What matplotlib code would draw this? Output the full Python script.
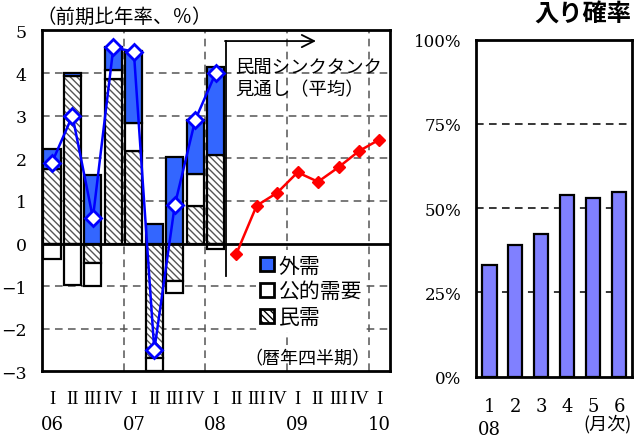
import numpy as np
import matplotlib
matplotlib.use("Agg")
import matplotlib.pyplot as plt
from matplotlib.patches import Patch
from matplotlib.transforms import blended_transform_factory

JP = ["Noto Sans CJK JP", "DejaVu Sans"]
NUM = "DejaVu Serif"

# --- quarterly real GDP contributions (q/q annualised, %) ---
quarter_labels = ["I", "II", "III", "IV"] * 4 + ["I"]
year_labels = ["06", "07", "08", "09", "10"]
private_demand = [1.75, 3.92, -0.45, 3.87, 2.18, -2.69, -0.88, 0.89, 2.07]
public_demand = [-0.35, -0.97, -0.55, 0.20, 0.65, -0.30, -0.28, 0.74, -0.13]
external_demand = [0.47, 0.07, 1.61, 0.55, 1.68, 0.45, 2.03, 1.28, 2.08]
gdp_growth = [1.9, 3.0, 0.6, 4.6, 4.5, -2.5, 0.9, 2.9, 4.0]
forecast = [-0.25, 0.89, 1.19, 1.67, 1.45, 1.79, 2.17, 2.44]

# --- monthly recession probability (%) ---
months = ["1", "2", "3", "4", "5", "6"]
probability = [33.2, 39.2, 42.3, 53.9, 53.1, 54.9]

BLUE = "#3366ff"
HATCH_GRAY = "#555555"
GRID = "#555555"
HATCH = "\\\\\\\\\\"

plt.rcParams["hatch.linewidth"] = 1.0
plt.rcParams["hatch.color"] = HATCH_GRAY

fig = plt.figure(figsize=(6.4, 4.39), dpi=100)

# ================= left panel =================
ax = fig.add_axes([0.0652, 0.1515, 0.5437, 0.7770])
n = len(private_demand)
x = np.arange(n)
w = 0.84

pos_base = np.zeros(n)
neg_base = np.zeros(n)

def stack(vals):
    vals = np.asarray(vals, dtype=float)
    bottoms = np.where(vals >= 0, pos_base, neg_base)
    pos_base[:] += np.where(vals >= 0, vals, 0)
    neg_base[:] += np.where(vals < 0, vals, 0)
    return bottoms

b_priv = stack(private_demand)
ax.bar(x, private_demand, w, bottom=b_priv, facecolor="white",
       edgecolor=HATCH_GRAY, hatch=HATCH, linewidth=0, zorder=3)
ax.bar(x, private_demand, w, bottom=b_priv, facecolor="none",
       edgecolor="black", linewidth=1.6, zorder=4)

b_pub = stack(public_demand)
ax.bar(x, public_demand, w, bottom=b_pub, facecolor="white",
       edgecolor="black", linewidth=1.6, zorder=4)

b_ext = stack(external_demand)
ax.bar(x, external_demand, w, bottom=b_ext, facecolor=BLUE,
       edgecolor="black", linewidth=1.6, zorder=4)

ax.plot(x, gdp_growth, color="#0000ff", lw=1.8, marker="D", ms=8,
        mfc="white", mec="#0000ff", mew=2, zorder=6)

xf = np.arange(n, n + len(forecast))
ax.plot(xf, forecast, color="#ff0000", lw=1.8, marker="D", ms=6.5,
        mfc="#ff0000", mec="#ff0000", zorder=6)

ax.set_xlim(-0.5, 16.5)
ax.set_ylim(-3, 5)
ax.set_yticks(range(-3, 6))
ax.set_yticklabels([str(v).replace("-", "\u2212") for v in range(-3, 6)],
                   family=NUM, fontsize=12.5)
ax.tick_params(axis="y", length=0, pad=11)
ax.set_xticks([])

for yv in [-2, -1, 1, 2, 3, 4]:
    ax.axhline(yv, color=GRID, lw=1.1, dashes=(5, 3.5), zorder=1)
for xv in [3.5, 7.5, 11.5, 15.5]:
    ax.axvline(xv, color=GRID, lw=1.1, dashes=(5, 3.5), zorder=1)
ax.axhline(0, color="black", lw=2, zorder=5)

for s in ax.spines.values():
    s.set_linewidth(2)

# quarter and year labels under the axis
tr = blended_transform_factory(ax.transData, fig.transFigure)
for i, lab in enumerate(quarter_labels):
    ax.text(i, 1 - 400 / 439, lab, transform=tr, ha="center", va="center",
            family="Liberation Serif", fontsize=13.5)
for k, yl in enumerate(year_labels):
    ax.text(4 * k, 1 - 425 / 439, yl, transform=tr, ha="center",
            va="center", family=NUM, fontsize=13)

fig.text(37 / 640, 1 - 17 / 439, "（前期比年率、％）", family=JP,
         fontsize=14, ha="left", va="center")

# forecast bracket with arrow
ax.plot([8.5, 8.5], [-0.75, 4.75], color="black", lw=1.3, zorder=5)
ax.annotate("", xy=(12.9, 4.75), xytext=(8.45, 4.75),
            arrowprops=dict(arrowstyle="->", lw=1.3, color="black",
                            mutation_scale=22, shrinkA=0, shrinkB=0),
            zorder=5)
ax.text(8.95, 3.87, "民間シンクタンク\n見通し（平均）", family=JP,
        fontsize=13.2, ha="left", va="center", linespacing=1.3, zorder=7)

ax.text(15.55, -2.68, "（暦年四半期）", family=JP, fontsize=13,
        ha="right", va="center", zorder=7)

handles = [
    Patch(facecolor=BLUE, edgecolor="black", linewidth=2, label="外需"),
    Patch(facecolor="white", edgecolor="black", linewidth=2, label="公的需要"),
    Patch(facecolor="white", edgecolor="black", linewidth=2,
          hatch=HATCH, label="民需"),
]
leg = ax.legend(handles=handles, loc="upper left",
                bbox_to_anchor=(0.615, 0.355), frameon=True, framealpha=1,
                edgecolor="none", prop={"family": JP, "size": 15},
                handlelength=0.68, handleheight=0.68, handletextpad=0.22,
                labelspacing=0.18, borderpad=0.2, borderaxespad=0)
leg.set_zorder(8)

# ================= right panel =================
ax2 = fig.add_axes([0.7445, 0.1396, 0.2430, 0.7676])
mx = np.arange(1, len(probability) + 1)
ax2.bar(mx, probability, 0.55, facecolor="#8080ff", edgecolor="black",
        linewidth=1.6, zorder=3)
ax2.set_xlim(0.5, 6.5)
ax2.set_ylim(0, 100)
ax2.set_yticks([0, 25, 50, 75, 100])
ax2.set_yticklabels(["0%", "25%", "50%", "75%", "100%"], family=NUM,
                    fontsize=12)
ax2.tick_params(axis="y", length=0, pad=11)
ax2.set_xticks([])
for yv in [25, 50, 75]:
    ax2.axhline(yv, color="black", lw=1.1, dashes=(5, 3.5), zorder=1)
for s in ax2.spines.values():
    s.set_linewidth(2)

tr2 = blended_transform_factory(ax2.transData, fig.transFigure)
for i, m in enumerate(months):
    ax2.text(mx[i], 1 - 407 / 439, m, transform=tr2, ha="center",
             va="center", family=NUM, fontsize=13)
ax2.text(1, 1 - 430 / 439, "08", transform=tr2, ha="center", va="center",
         family=NUM, fontsize=13)
fig.text(583 / 640, 1 - 424 / 439, "(月次)", family=JP, fontsize=13,
         ha="left", va="center")

fig.text(534 / 640, 1 - 15 / 439, "入り確率", family=JP, fontsize=17.5,
         fontweight="bold", ha="left", va="center")

fig.savefig("out.png", dpi=100)
